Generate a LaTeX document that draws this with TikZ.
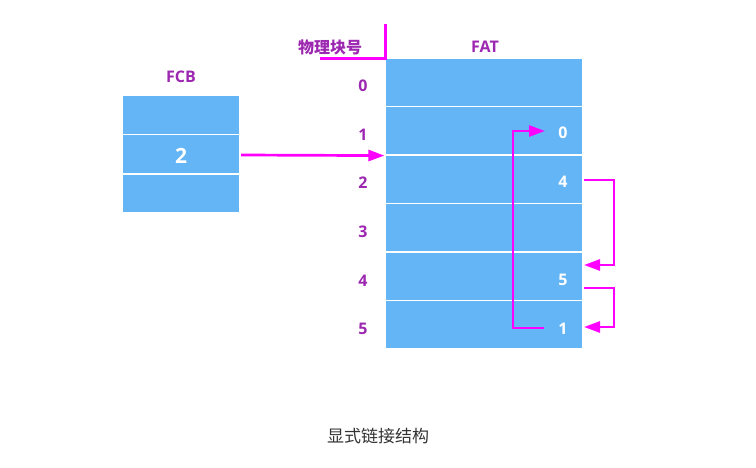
\documentclass[tikz,border=0pt]{standalone}
\usepackage{fontspec}
\setmainfont{Open Sans}
\newfontfamily\cjk{Noto Sans CJK SC}
\usetikzlibrary{arrows.meta}

\definecolor{cellblue}{RGB}{100,181,246}
\definecolor{labpurple}{RGB}{156,39,176}
\definecolor{linkmag}{RGB}{255,0,255}
\definecolor{capgray}{RGB}{51,51,51}

\tikzset{
  cell/.style={rectangle, fill=cellblue, draw=white, line width=1.2pt, inner sep=0pt},
  fcbcell/.style={cell, minimum width=118pt, minimum height=39pt},
  fatcell/.style={cell, minimum width=198pt, minimum height=48.5pt},
  idx/.style={text=labpurple, font=\bfseries\fontsize{16}{16}\selectfont},
  val/.style={text=white, font=\bfseries\fontsize{16}{16}\selectfont},
  link/.style={draw=linkmag, line width=2.7pt, -{Triangle[length=16pt,width=11pt]}},
}

\begin{document}
\begin{tikzpicture}[x=1pt, y=-1pt]
\useasboundingbox (0,0) rectangle (756,468);
% FCB
\node[idx] (fcbtitle) at (181,77) {FCB};
\node[fcbcell] (c0) at (181,115) {};
\node[fcbcell] (c1) at (181,154) {};
\node[fcbcell] (c2) at (181,193.5) {};
\node[val, font=\bfseries\fontsize{21}{21}\selectfont] (fcbval) at (181,156) {2};
% FAT table
\node[idx] (fattitle) at (485,47) {FAT};
\foreach \i in {0,...,5} {
  \node[fatcell] (f\i) at (484,{82.25+48.5*\i}) {};
  \node[idx] (n\i) at (363,{86+48.6*\i}) {\i};
}
\node[val] (v0) at (563,133) {0};
\node[val] (v4) at (563,182) {4};
\node[val] (v5) at (563,280) {5};
\node[val] (v1) at (563,329) {1};
% block number marker
\node[text=labpurple, font=\cjk\bfseries\fontsize{16}{16}\selectfont] (blk) at (330,47) {物理块号};
\coordinate (mtop) at (385,24);
\coordinate (mleft) at (320,59);
\draw[draw=linkmag, line width=3pt] (mtop) |- (mleft);
% links
\coordinate (s0) at (241,155);
\coordinate (s4) at (584,180);
\coordinate (e5) at (584,265);
\coordinate (s5) at (584,288);
\coordinate (e1) at (584,327);
\coordinate (s1) at (544,328);
\coordinate (e0) at (545,131);
\draw[link] (s0) -- (f1.south west);
\draw[link] (s4) -- ++(30,0) |- (e5);
\draw[link] (s5) -- ++(30,0) |- (e1);
\draw[link] (s1) -- ++(-31,0) |- (e0);
% caption
\node[text=capgray, font=\cjk\fontsize{17}{17}\selectfont] (cap) at (378,436) {显式链接结构};
\end{tikzpicture}
\end{document}
